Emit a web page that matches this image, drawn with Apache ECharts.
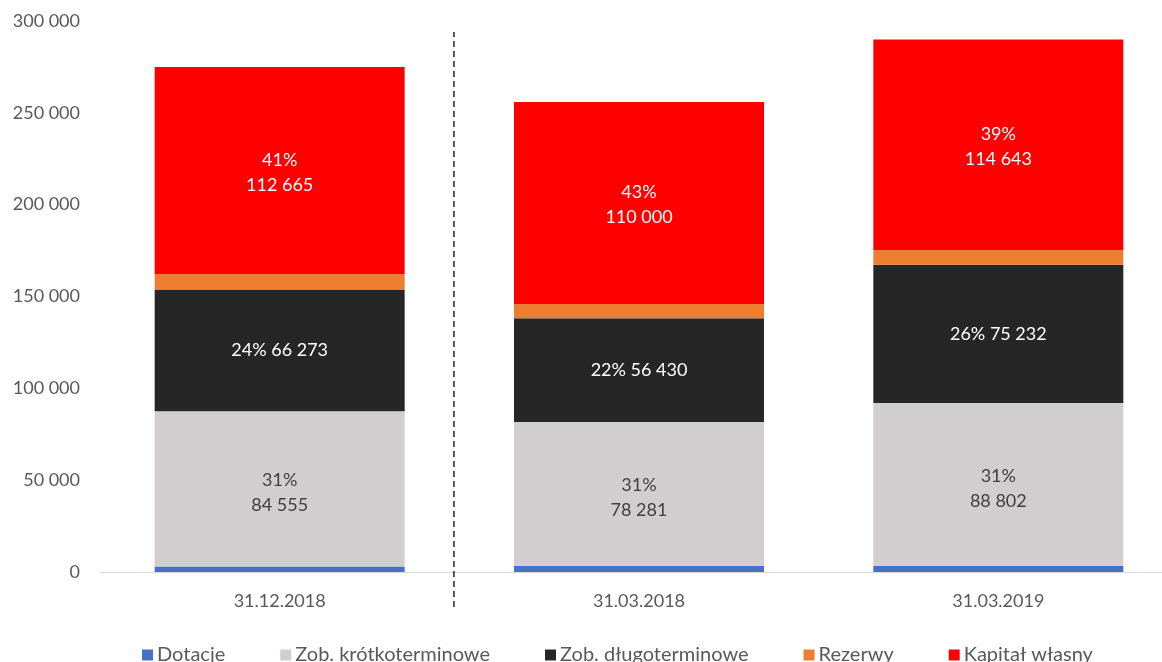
<!DOCTYPE html>
<html>
<head>
<meta charset="utf-8">
<script src="https://cdn.jsdelivr.net/npm/echarts@6/dist/echarts.min.js"></script>
<style>
html, body { margin: 0; padding: 0; background: #fff; }
#chart { width: 1162px; height: 662px; }
</style>
</head>
<body>
<div id="chart"></div>
<script>
var categories = ['31.12.2018', '31.03.2018', '31.03.2019'];
var dotacje = [3000, 3400, 3200];
var zobKrotko = [84555, 78281, 88802];
var zobDlugo = [66273, 56430, 75232];
var rezerwy = [8400, 7800, 8100];
var kapital = [112665, 110000, 114643];
var pctKrotko = ['31%', '31%', '31%'];
var pctDlugo = ['24%', '22%', '26%'];
var pctKapital = ['41%', '43%', '39%'];
// separator between first and the rest (category units)
var separatorX = 0.985;

function fmt(v) {
	return String(v).replace(/\B(?=(\d{3})+(?!\d))/g, ' ');
}

var fontName = 'Lato';
var chart = echarts.init(document.getElementById('chart'));

function barSeries(name, data, color, label) {
	var s = {
		name: name,
		type: 'bar',
		stack: 'total',
		barWidth: 250,
		itemStyle: { color: color },
		data: data,
		label: { show: false }
	};
	if (label) s.label = label;
	return s;
}

chart.setOption({
	animation: false,
	textStyle: { fontFamily: fontName },
	grid: { left: 100, top: 21, width: 1078, height: 551, outerBoundsMode: 'none', containLabel: false },
	legend: {
		top: 640,
		left: 137,
		itemWidth: 11,
		itemHeight: 11,
		itemGap: 55,
		icon: 'rect',
		textStyle: { color: '#595959', fontSize: 20, fontFamily: fontName, padding: [0, 0, 0, -1] },
		data: ['Dotacje', 'Zob. krótkoterminowe', 'Zob. długoterminowe', 'Rezerwy', 'Kapitał własny']
	},
	xAxis: [
		{
			type: 'category',
			data: categories,
			axisLine: { lineStyle: { color: '#D9D9D9', width: 1 } },
			axisTick: { show: false },
			axisLabel: { color: '#595959', fontSize: 18, margin: 20 }
		},
		{
			type: 'value',
			min: 0,
			max: 3,
			show: false
		}
	],
	yAxis: {
		type: 'value',
		min: 0,
		max: 300000,
		interval: 50000,
		axisLine: { show: false },
		axisTick: { show: false },
		splitLine: { show: false },
		axisLabel: { color: '#595959', fontSize: 18, margin: 20, formatter: fmt }
	},
	series: [
		barSeries('Dotacje', dotacje, '#4472C4'),
		barSeries('Zob. krótkoterminowe', zobKrotko, '#D0CECE', {
			show: true, position: 'inside', color: '#404040', fontSize: 18, lineHeight: 25, offset: [0, 4],
			formatter: function (p) { return pctKrotko[p.dataIndex] + '\n' + fmt(p.value); }
		}),
		barSeries('Zob. długoterminowe', zobDlugo, '#262626', {
			show: true, position: 'inside', color: '#ffffff', fontSize: 18,
			formatter: function (p) { return pctDlugo[p.dataIndex] + ' ' + fmt(p.value); }
		}),
		barSeries('Rezerwy', rezerwy, '#ED7D31'),
		barSeries('Kapitał własny', kapital, '#FF0000', {
			show: true, position: 'inside', color: '#ffffff', fontSize: 18, lineHeight: 25, offset: [0, 2],
			formatter: function (p) { return pctKapital[p.dataIndex] + '\n' + fmt(p.value); }
		}),
		{
			name: 'separator',
			type: 'line',
			xAxisIndex: 1,
			clip: false,
			symbol: 'none',
			silent: true,
			lineStyle: { color: '#262626', width: 1.5, type: [6, 4] },
			data: [[separatorX, -19000], [separatorX, 294000]]
		}
	]
});
</script>
</body>
</html>
